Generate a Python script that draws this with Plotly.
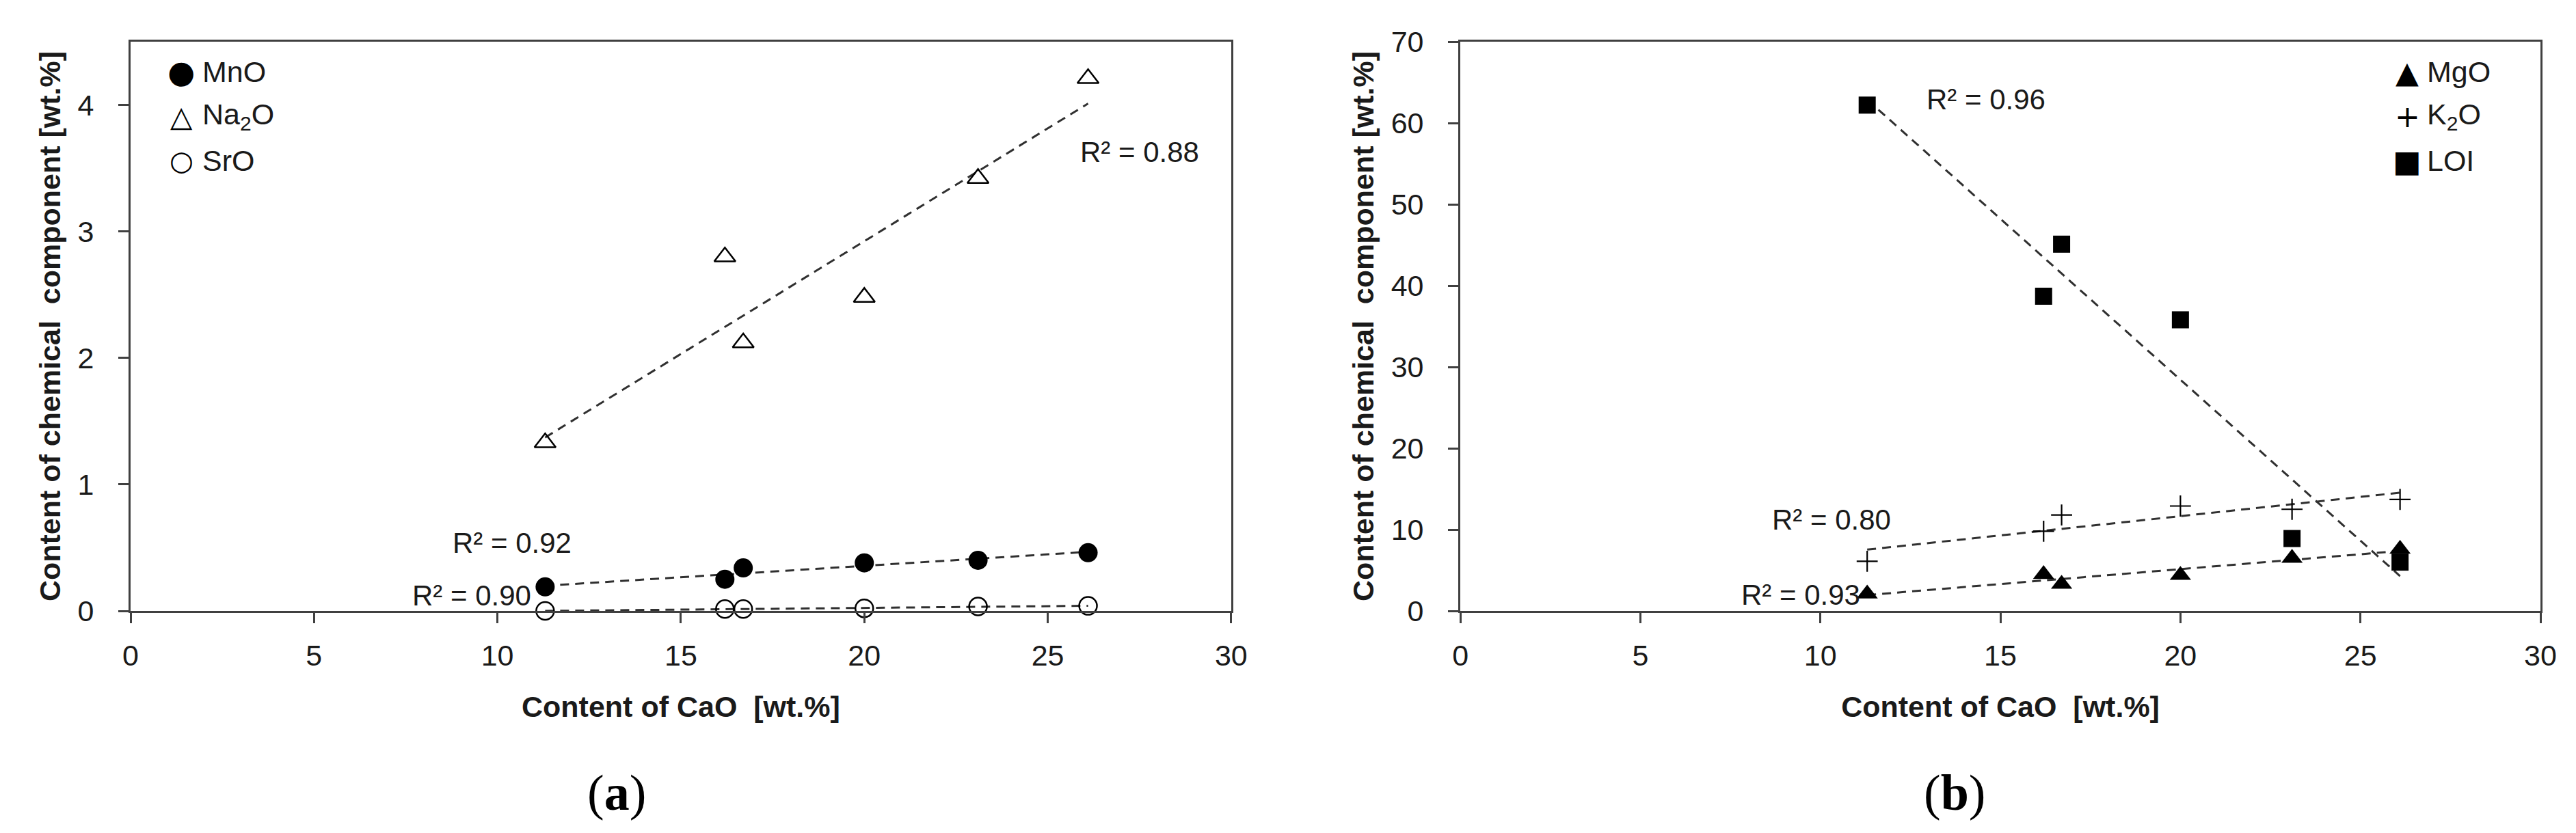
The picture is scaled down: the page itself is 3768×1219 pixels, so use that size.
import numpy as np
import plotly.graph_objects as go
from plotly.subplots import make_subplots

# CaO content of the six samples [wt.%]
cao = [11.3, 16.2, 16.7, 20.0, 23.1, 26.1]

# panel (a)
mno = [0.19, 0.25, 0.34, 0.38, 0.40, 0.46]
na2o = [1.33, 2.80, 2.12, 2.48, 3.42, 4.21]
sro = [0.0, 0.015, 0.015, 0.02, 0.035, 0.04]

# panel (b)
mgo = [2.1, 4.5, 3.3, 4.4, 6.5, 7.6]
k2o = [6.1, 9.8, 11.8, 12.9, 12.5, 13.7]
loi = [62.2, 38.7, 45.1, 35.8, 8.9, 6.0]

# R² labels and where they sit (data coords)
r2_a = [("R² = 0.88", 27.5, 3.63), ("R² = 0.92", 10.4, 0.535), ("R² = 0.90", 9.3, 0.124)]
r2_b = [("R² = 0.96", 14.6, 62.9), ("R² = 0.80", 10.3, 11.2), ("R² = 0.93", 9.45, 2.0)]

# legend entries: (symbol glyph, glyph size, label)
legend_a = [("●", 46, "MnO"), ("△", 42, "Na<sub>2</sub>O"), ("○", 40, "SrO")]
legend_b = [("▲", 44, "MgO"), ("+", 44, "K<sub>2</sub>O"), ("■", 44, "LOI")]

FONT = "Liberation Sans, Arial, sans-serif"
INK = "#1a1a1a"
AXC = "#404040"

fig = make_subplots(rows=1, cols=2)


def add_series(y, symbol, size, col, lw=0):
    fig.add_trace(go.Scatter(
        x=cao, y=y, mode="markers", cliponaxis=False, showlegend=False,
        marker=dict(symbol=symbol, size=size, color="black",
                    line=dict(width=lw, color="black")),
    ), row=1, col=col)


def add_trend(y, col):
    # linear trendline over the data range, like Excel does
    k, b = np.polyfit(cao, y, 1)
    xs = np.array([min(cao), max(cao)])
    fig.add_trace(go.Scatter(
        x=xs, y=k * xs + b, mode="lines", showlegend=False, cliponaxis=False,
        line=dict(color="#303030", width=3, dash="13px,9px"),
    ), row=1, col=col)


add_trend(na2o, 1)
add_trend(mno, 1)
add_trend(sro, 1)
add_series(mno, "circle", 28, 1)
add_series(na2o, "triangle-up-open", 27, 1, 2.5)
add_series(sro, "circle-open", 26, 1, 2.5)

add_trend(loi, 2)
add_trend(k2o, 2)
add_trend(mgo, 2)
add_series(mgo, "triangle-up", 27, 2)
add_series(k2o, "cross-thin-open", 22, 2, 2.2)
add_series(loi, "square", 25, 2)

axis_style = dict(
    showline=True, linecolor=AXC, linewidth=3, mirror=True,
    ticks="outside", ticklen=15, tickwidth=3, tickcolor=AXC,
    showgrid=False, zeroline=False,
    tickfont=dict(family=FONT, size=43, color=INK),
)
xtitle = dict(text="Content of CaO\u00a0 [wt.%]",
              font=dict(family=FONT, size=43, color=INK, weight="bold"),
              standoff=38)
ytitle = dict(text="Content of chemical\u00a0 component [wt.%]",
              font=dict(family=FONT, size=43, color=INK, weight="bold"),
              standoff=12)

fig.update_xaxes(axis_style, range=[0, 30], dtick=5, title=xtitle, ticklabelstandoff=10)
fig.update_yaxes(axis_style, title=ytitle, ticklabelstandoff=27)
fig.update_layout(
    xaxis=dict(domain=[0, 0.4567]),
    xaxis2=dict(domain=[0.5518, 1]),
    yaxis=dict(range=[0, 4.5], dtick=1),
    yaxis2=dict(range=[0, 70], dtick=10),
)

annotations = []
for txt, x, y in r2_a:
    annotations.append(dict(text=txt, x=x, y=y, xref="x", yref="y", showarrow=False,
                            font=dict(family=FONT, size=42, color=INK)))
for txt, x, y in r2_b:
    annotations.append(dict(text=txt, x=x, y=y, xref="x2", yref="y2", showarrow=False,
                            font=dict(family=FONT, size=42, color=INK)))

# legends, drawn as text rows so the symbols keep their size
rows_y = [0.947, 0.869, 0.791]
for entries, ax, sym_x, lab_x in [(legend_a, "x", 0.046, 0.064), (legend_b, "x2", 0.8766, 0.8937)]:
    yref = "y domain" if ax == "x" else "y2 domain"
    for (glyph, gsize, label), yy in zip(entries, rows_y):
        annotations.append(dict(text=glyph, x=sym_x, y=yy, xref=ax + " domain", yref=yref,
                                xanchor="center", yanchor="middle", showarrow=False,
                                font=dict(family="DejaVu Sans", size=gsize, color="black")))
        annotations.append(dict(text=label, x=lab_x, y=yy, xref=ax + " domain", yref=yref,
                                xanchor="left", yanchor="middle", showarrow=False,
                                font=dict(family=FONT, size=43, color=INK)))

# panel letters
for txt, x in [("(<b>a</b>)", 0.2017), ("(<b>b</b>)", 0.7569)]:
    annotations.append(dict(text=txt, x=x, y=-0.319, xref="paper", yref="paper",
                            xanchor="center", yanchor="middle", showarrow=False,
                            font=dict(family="Liberation Serif, Times New Roman, serif",
                                      size=74, color="black")))

fig.update_layout(
    width=3768, height=1219,
    margin=dict(l=183, r=60, t=53, b=333),
    plot_bgcolor="white", paper_bgcolor="white",
    showlegend=False,
    annotations=annotations,
)

fig.write_html("out.html")
